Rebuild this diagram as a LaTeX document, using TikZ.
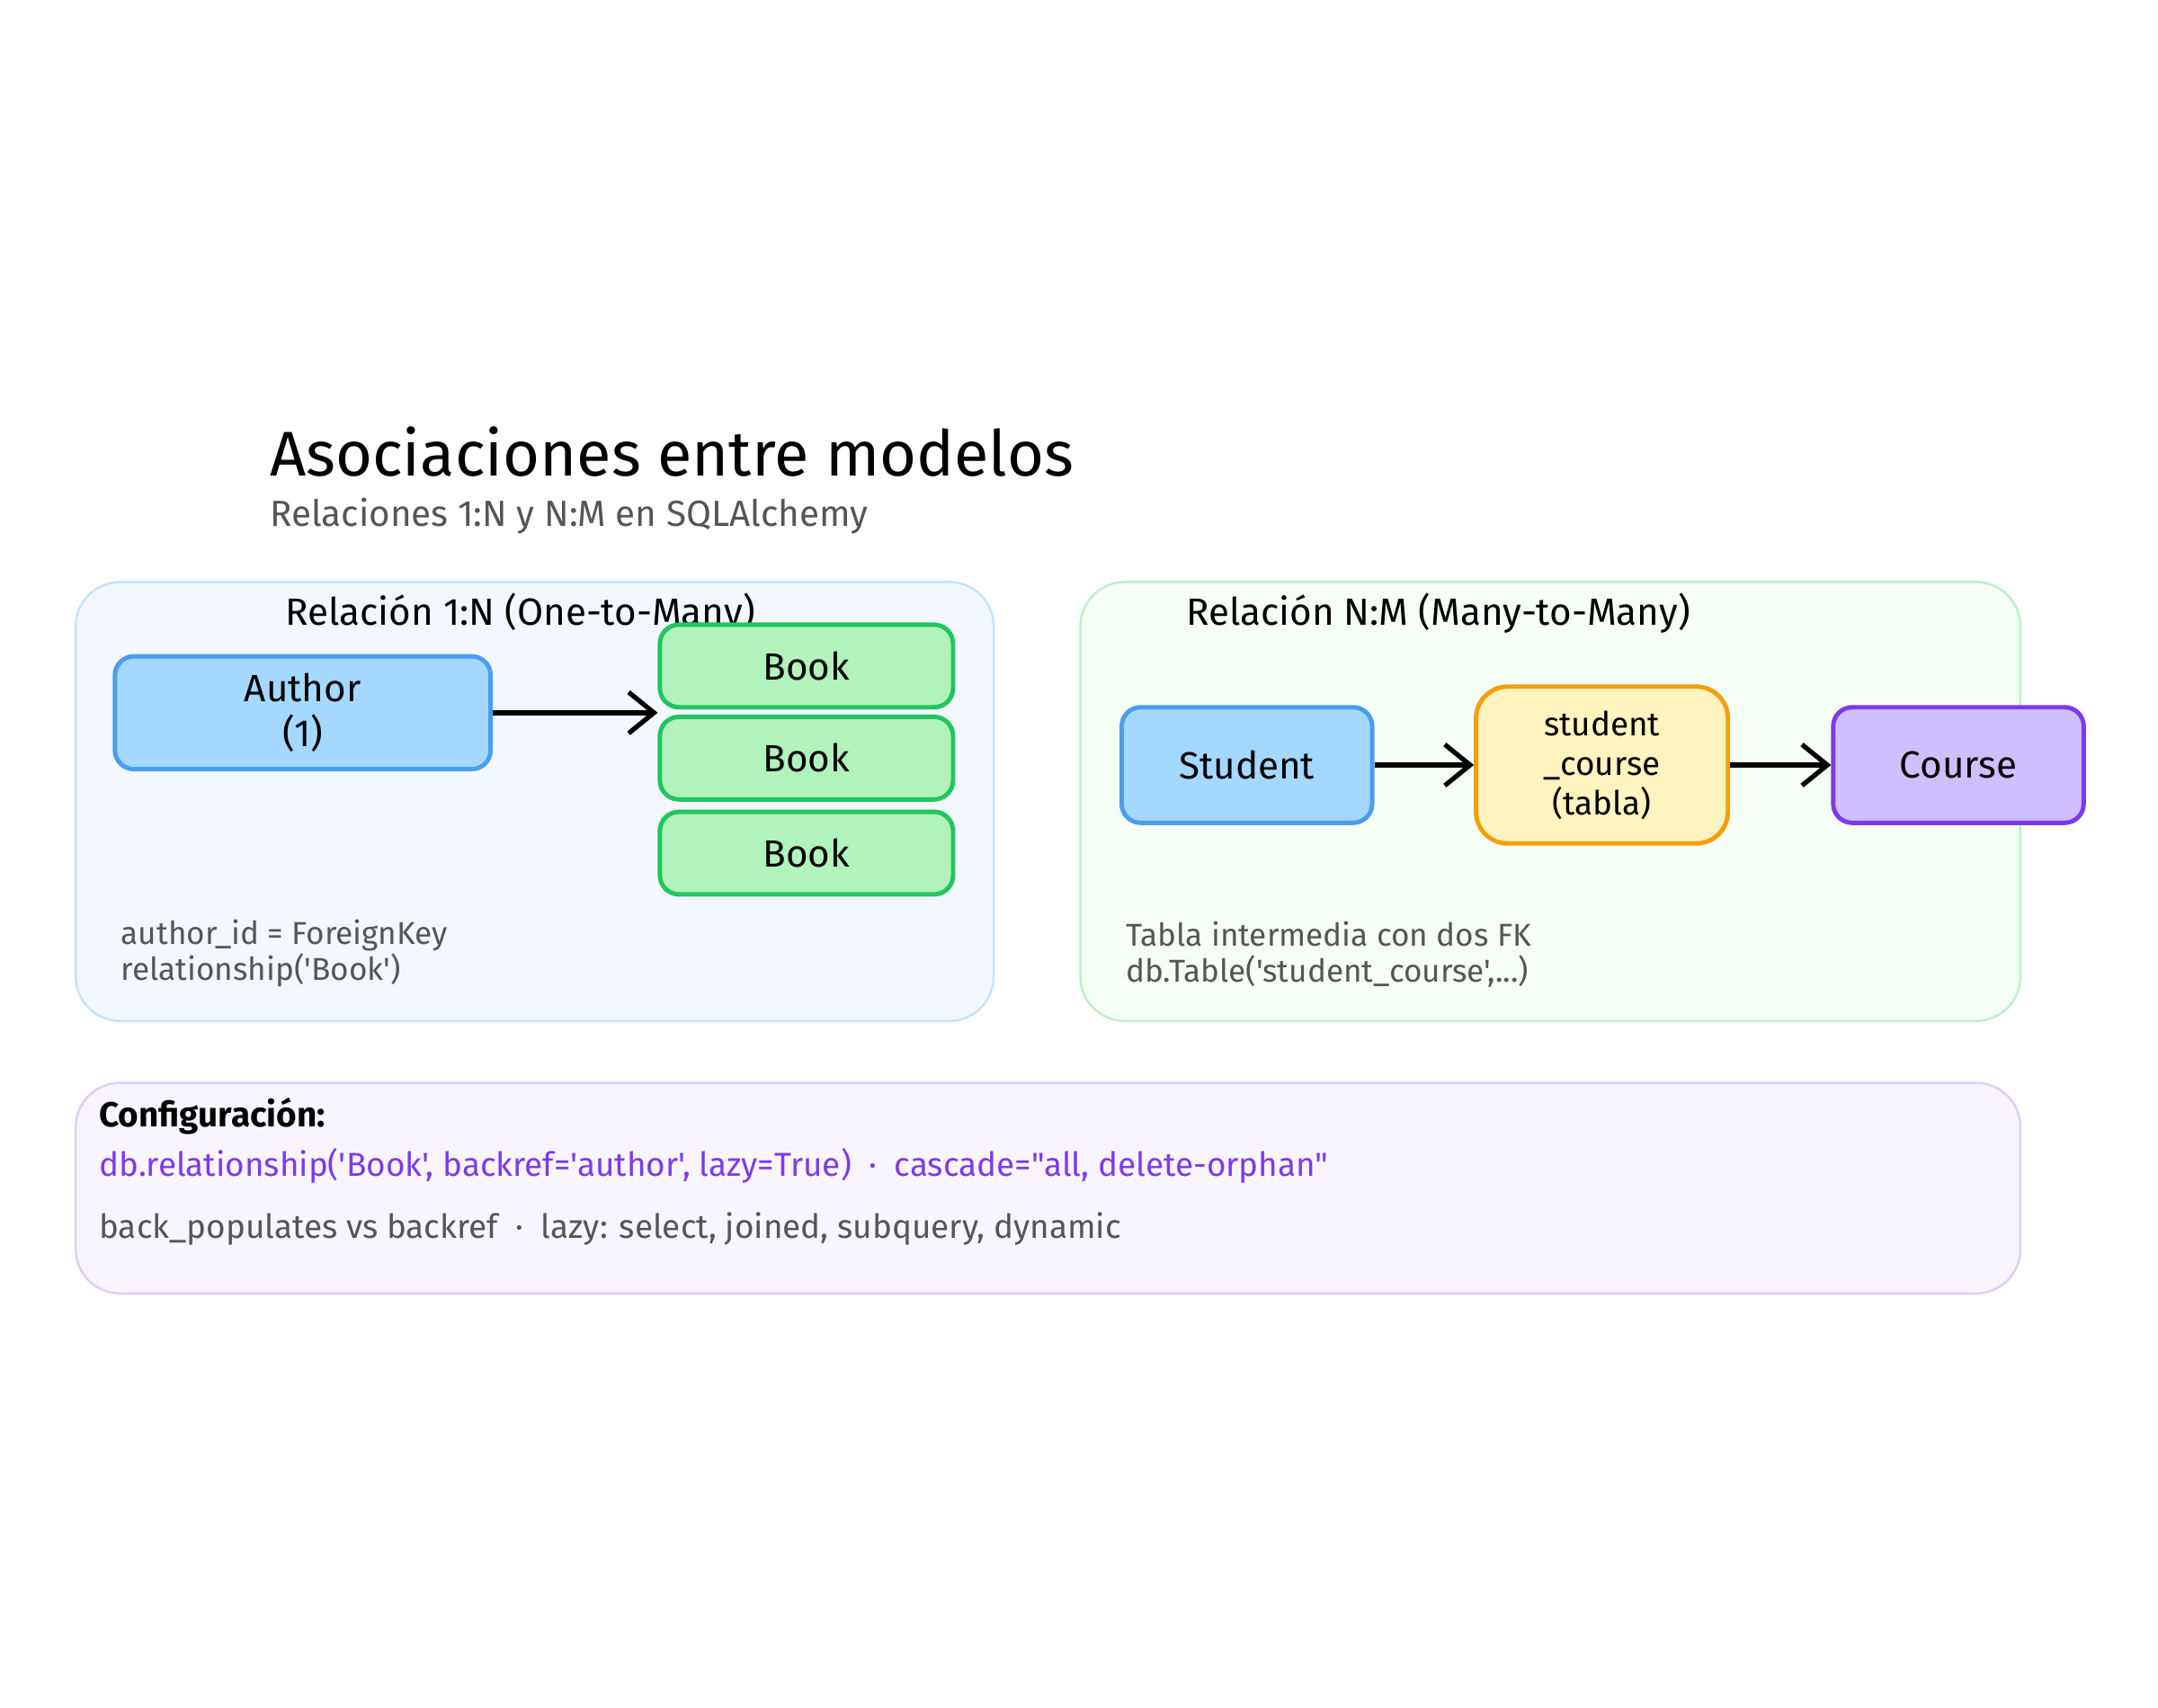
\documentclass[tikz,border=0pt]{standalone}
\usepackage{fontspec}
\setmainfont{Fira Sans}[Ligatures=TeXReset]
\usetikzlibrary{arrows.meta}
\definecolor{blueF}{HTML}{A5D8FF}\definecolor{blueD}{HTML}{4A9EED}
\definecolor{greenF}{HTML}{B2F2BB}\definecolor{greenD}{HTML}{22C55E}
\definecolor{yelF}{HTML}{FFF3BF}\definecolor{yelD}{HTML}{F59E0B}
\definecolor{purF}{HTML}{D0BFFF}\definecolor{purD}{HTML}{7C3AED}
\definecolor{txtG}{HTML}{555555}
\definecolor{paneA}{HTML}{F3F7FE}
\tikzset{
  panel/.style={rounded corners=14pt, line width=0.7pt},
  entity/.style={rounded corners=6pt, line width=1.4pt, font=\fontsize{12}{14}\selectfont, align=center},
  link/.style={line width=1.6pt, -{Straight Barb[length=8pt,width=13pt,line width=1.5pt]}},
  note/.style={anchor=west, text=txtG, font=\fontsize{10}{12}\selectfont}
}
\begin{document}
\begin{tikzpicture}[x=0.0153cm,y=-0.0153cm]
  \useasboundingbox (0,0) rectangle (1568,1241);

  \node[anchor=west, font=\fontsize{20}{24}\selectfont] (title) at (188,328) {Asociaciones entre modelos};
  \node[anchor=west, text=txtG, font=\fontsize{11.5}{14}\selectfont] (subtitle) at (188,375) {Relaciones 1:N y N:M en SQLAlchemy};

  % panels
  \draw[panel, fill=paneA, draw=blueD!30] (55,423) rectangle (722,742);
  \draw[panel, fill=green!4, draw=greenD!30] (785,423) rectangle (1468,742);
  \draw[panel, fill=purD!5, draw=purD!25] (55,787) rectangle (1468,940);

  % 1:N
  \node[font=\fontsize{12}{14}\selectfont] (hdrA) at (378,446) {Relación 1:N (One-to-Many)};
  \node[entity, fill=blueF, draw=blueD, minimum width=273*0.0153cm, minimum height=82*0.0153cm] (author) at (220,518) {Author\\(1)};
  \node[entity, fill=greenF, draw=greenD, minimum width=213*0.0153cm, minimum height=60*0.0153cm] (book1) at (586,484) {Book};
  \node[entity, fill=greenF, draw=greenD, minimum width=213*0.0153cm, minimum height=60*0.0153cm] (book2) at (586,551) {Book};
  \node[entity, fill=greenF, draw=greenD, minimum width=213*0.0153cm, minimum height=60*0.0153cm] (book3) at (586,620) {Book};
  \draw[link] (author.east) -- (author.east -| book1.west);
  \node[note] (noteA1) at (80,680) {author\_id = ForeignKey};
  \node[note] (noteA2) at (80,705) {relationship('Book')};

  % N:M
  \node[font=\fontsize{12}{14}\selectfont] (hdrB) at (1045,446) {Relación N:M (Many-to-Many)};
  \node[entity, fill=blueF, draw=blueD, minimum width=182*0.0153cm, minimum height=84*0.0153cm] (student) at (906,556) {Student};
  \node[entity, fill=yelF, draw=yelD, minimum width=183*0.0153cm, minimum height=114*0.0153cm, rounded corners=10pt, font=\fontsize{10.5}{12.5}\selectfont] (assoc) at (1164,556) {student\\\_course\\(tabla)};
  \node[entity, fill=purF, draw=purD, minimum width=182*0.0153cm, minimum height=84*0.0153cm] (course) at (1423,556) {Course};
  \draw[link] (student) -- (assoc);
  \draw[link] (assoc) -- (course);
  \node[note] (noteB1) at (810,679) {Tabla intermedia con dos FK};
  \node[note] (noteB2) at (810,706) {db.Table('student\_course',...)};

  % config
  \node[anchor=west, font=\bfseries\fontsize{11}{13}\selectfont] (cfg) at (64,811) {Configuración:};
  \node[anchor=west, text=purD, font=\fontsize{10.5}{13}\selectfont] (cfg1) at (64,847) {db.relationship('Book', backref='author', lazy=True) \ · \ cascade="all, delete-orphan"};
  \node[anchor=west, text=txtG, font=\fontsize{10.5}{13}\selectfont] (cfg2) at (64,893) {back\_populates vs backref \ · \ lazy: select, joined, subquery, dynamic};
\end{tikzpicture}
\end{document}
